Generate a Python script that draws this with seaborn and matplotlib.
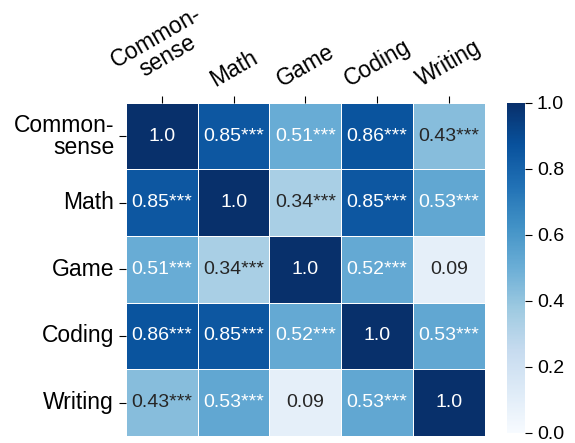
import numpy as np
import pandas as pd
import matplotlib
matplotlib.use("Agg")
import matplotlib.pyplot as plt
import seaborn as sns

categories = ["Common-\nsense", "Math", "Game", "Coding", "Writing"]

row_commonsense = [1.00, 0.85, 0.51, 0.86, 0.43]
row_math = [0.85, 1.00, 0.34, 0.85, 0.53]
row_game = [0.51, 0.34, 1.00, 0.52, 0.09]
row_coding = [0.86, 0.85, 0.52, 1.00, 0.53]
row_writing = [0.43, 0.53, 0.09, 0.53, 1.00]

# significance marks per cell ("" on the diagonal and for non-significant pairs)
stars_commonsense = ["", "***", "***", "***", "***"]
stars_math = ["***", "", "***", "***", "***"]
stars_game = ["***", "***", "", "***", ""]
stars_coding = ["***", "***", "***", "", "***"]
stars_writing = ["***", "***", "", "***", ""]

cbar_ticks = [0.0, 0.2, 0.4, 0.6, 0.8, 1.0]

values = np.array([row_commonsense, row_math, row_game, row_coding, row_writing])
stars = [stars_commonsense, stars_math, stars_game, stars_coding, stars_writing]
df = pd.DataFrame(values, index=categories, columns=categories)

labels = np.empty(values.shape, dtype=object)
for i in range(values.shape[0]):
    for j in range(values.shape[1]):
        if i == j:
            labels[i, j] = f"{values[i, j]:.1f}"
        else:
            labels[i, j] = f"{values[i, j]:.2f}{stars[i][j]}"

plt.rcParams["font.family"] = ["Liberation Sans", "DejaVu Sans"]

fig = plt.figure(figsize=(5.75, 4.43), dpi=100)
ax = fig.add_axes([0.219, 0.016, 0.624, 0.752])
cax = fig.add_axes([0.882, 0.023, 0.031, 0.745])

sns.heatmap(df, ax=ax, cbar_ax=cax, cmap="Blues", vmin=0, vmax=1,
            annot=labels, fmt="", annot_kws={"fontsize": 14},
            linewidths=0.7, linecolor="white",
            cbar_kws={"ticks": cbar_ticks})
ax.set_aspect("auto")

ax.xaxis.tick_top()
ax.tick_params(axis="both", length=5, width=0.8, labelsize=16.5)
ax.set_xticklabels(categories, rotation=30, ha="center", fontsize=16.5,
                   linespacing=0.95)
ax.set_yticklabels(categories, rotation=0, ha="right", fontsize=16.5,
                   linespacing=0.95)
ax.set_xlabel("")
ax.set_ylabel("")

cax.tick_params(labelsize=14, length=5, width=0.8)
cax.set_yticklabels([f"{t:.1f}" for t in cbar_ticks])
for s in cax.spines.values():
    s.set_visible(False)

fig.savefig("out.png", dpi=100)
